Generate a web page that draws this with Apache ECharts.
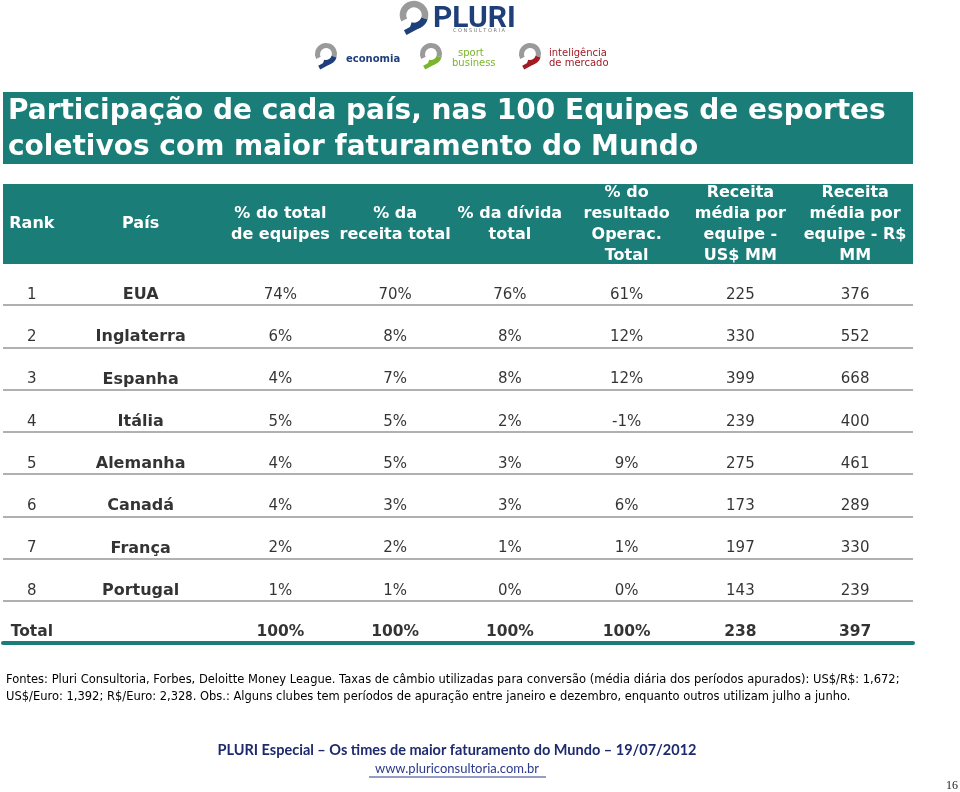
<!DOCTYPE html>
<html>
<head>
<meta charset="utf-8">
<script src="https://cdn.jsdelivr.net/npm/echarts@6/dist/echarts.min.js"></script>
<style>html,body{margin:0;padding:0;background:#fff}#c{width:960px;height:792px}</style>
</head>
<body>
<div id="c"></div>
<script>
// ---- data ----
const headers = ['Rank', 'País', '% do total\nde equipes', '% da\nreceita total', '% da dívida\ntotal',
  '% do\nresultado\nOperac.\nTotal', 'Receita\nmédia por\nequipe -\nUS$ MM', 'Receita\nmédia por\nequipe - R$\nMM'];
const ranks = ['1', '2', '3', '4', '5', '6', '7', '8'];
const countries = ['EUA', 'Inglaterra', 'Espanha', 'Itália', 'Alemanha', 'Canadá', 'França', 'Portugal'];
const pctTeams = [74, 6, 4, 5, 4, 4, 2, 1];
const pctRevenue = [70, 8, 7, 5, 5, 3, 2, 1];
const pctDebt = [76, 8, 8, 2, 3, 3, 1, 0];
const pctOpResult = [61, 12, 12, -1, 9, 6, 1, 0];
const avgRevUSD = [225, 330, 399, 239, 275, 173, 197, 143];
const avgRevBRL = [376, 552, 668, 400, 461, 289, 330, 239];
const totalLabel = 'Total';
const totals = [100, 100, 100, 100, 238, 397];

// ---- styles ----
const TEAL = '#1a7d78';
const FONT = '"DejaVu Sans", Verdana, sans-serif';
const rowKeys = ranks.concat([totalLabel]);
const colShift = [-28, -33, -7, -6, -5, -2, -2, -1];

const pct = v => v + '%';
const columns = [
  ranks, countries, pctTeams.map(pct), pctRevenue.map(pct), pctDebt.map(pct),
  pctOpResult.map(pct), avgRevUSD.map(String), avgRevBRL.map(String)
];
const totalRow = [totalLabel, ''].concat(totals.slice(0, 4).map(pct), totals.slice(4).map(String));

const cells = [];
columns.forEach((col, c) => {
  col.forEach((txt, r) => {
    cells.push({
      value: [c, r], text: txt,
      label: c === 1
        ? { fontWeight: 'bold', fontSize: 16, offset: [colShift[c], 11] }
        : { fontWeight: 'normal', fontSize: 15, offset: [colShift[c], 11] }
    });
  });
});
totalRow.forEach((txt, c) => {
  if (!txt) return;
  cells.push({ value: [c, rowKeys.length - 1], text: txt, label: { fontWeight: 'bold', fontSize: 15.5, offset: [colShift[c], 10] } });
});

const rich = {};
headers.forEach((h, i) => {
  rich['c' + i] = {
    color: '#fff', fontFamily: FONT, fontWeight: 'bold', fontSize: 16, lineHeight: 21,
    padding: [0, -2 * colShift[i], 0, 0]
  };
});

const chart = echarts.init(document.getElementById('c'), null, { renderer: 'canvas' });

function logoIcon(cx, cy, s, tail) {
  return {
    type: 'group', children: [
      { type: 'arc', shape: { cx: cx, cy: cy, r: 10 * s, startAngle: Math.PI * 0.85, endAngle: Math.PI * 2.1 },
        style: { stroke: '#9a9a9a', lineWidth: 6 * s, fill: null } },
      { type: 'arc', shape: { cx: cx, cy: cy, r: 10 * s, startAngle: Math.PI * 0.1, endAngle: Math.PI * 0.6 },
        style: { stroke: tail, lineWidth: 6 * s, fill: null } },
      { type: 'line', shape: { x1: cx + 5 * s, y1: cy + 9 * s, x2: cx - 8 * s, y2: cy + 16 * s },
        style: { stroke: tail, lineWidth: 5 * s } }
    ]
  };
}

const option = {
  animation: false,
  backgroundColor: '#ffffff',
  textStyle: { fontFamily: FONT },
  grid: { left: 3, width: 910, top: 263, height: 380, containLabel: false },
  xAxis: [
    {
      type: 'category', data: headers, position: 'top', z: 20,
      axisLine: { show: false }, axisTick: { show: false }, splitLine: { show: false },
      axisLabel: {
        interval: 0, hideOverlap: false, margin: 39, verticalAlign: 'middle', align: 'center',
        formatter: (v, i) => v.split('\n').map(l => '{c' + i + '|' + l + '}').join('\n'),
        rich: rich
      }
    },
    {
      type: 'category', data: headers, position: 'bottom', z: 20,
      axisLine: { show: true, lineStyle: { color: TEAL, width: 4 } },
      axisTick: { show: false }, axisLabel: { show: false }, splitLine: { show: false }
    }
  ],
  yAxis: {
    type: 'category', data: rowKeys, inverse: true,
    axisLine: { show: false }, axisTick: { show: false }, axisLabel: { show: false },
    splitLine: { show: true, interval: 0, lineStyle: { color: '#969696', width: 1.6 } }
  },
  series: [{
    type: 'scatter', xAxisIndex: 0, yAxisIndex: 0, silent: true,
    symbolSize: 1, itemStyle: { color: 'rgba(0,0,0,0)' },
    label: {
      show: true, position: 'inside', color: '#000', fontFamily: FONT, fontSize: 15,
      formatter: p => p.data.text
    },
    data: cells, z: 30
  }],
  graphic: [
    // logo
    logoIcon(414, 15, 1.1, '#1f3f7a'),
    { type: 'text', x: 433, y: 4, z: 5, style: { text: 'PLURI', fill: '#1f3f7a', font: 'bold 30px Roboto, sans-serif' } },
    { type: 'text', x: 453, y: 28, z: 5, style: { text: 'C O N S U L T O R I A', fill: '#777', font: '5px "DejaVu Sans"' } },
    logoIcon(326, 54, 0.85, '#1f3f7a'),
    { type: 'text', x: 346, y: 54, z: 5, style: { text: 'economia', fill: '#1f3f7a', font: 'bold 10px "DejaVu Sans"' } },
    logoIcon(431, 54, 0.85, '#7ab52d'),
    { type: 'text', x: 458, y: 48, z: 5, style: { text: 'sport', fill: '#7ab52d', font: '10px "DejaVu Sans"' } },
    { type: 'text', x: 452, y: 58, z: 5, style: { text: 'business', fill: '#7ab52d', font: '10px "DejaVu Sans"' } },
    logoIcon(530, 54, 0.85, '#a01c22'),
    { type: 'text', x: 549, y: 48, z: 5, style: { text: 'inteligência', fill: '#a01c22', font: '10px "DejaVu Sans"' } },
    { type: 'text', x: 549, y: 58, z: 5, style: { text: 'de mercado', fill: '#a01c22', font: '10px "DejaVu Sans"' } },
    // title band
    { type: 'rect', z: 5, shape: { x: 3, y: 92, width: 910, height: 72 }, style: { fill: TEAL } },
    { type: 'text', z: 6, x: 8, y: 112, style: { text: 'Participação de cada país, nas 100 Equipes de esportes', fill: '#fff', font: 'bold 28px "DejaVu Sans"', textVerticalAlign: 'middle' } },
    { type: 'text', z: 6, x: 8, y: 148, style: { text: 'coletivos com maior faturamento do Mundo', fill: '#fff', font: 'bold 28px "DejaVu Sans"', textVerticalAlign: 'middle' } },
    // header band
    { type: 'rect', z: 10, shape: { x: 3, y: 184, width: 910, height: 80 }, style: { fill: TEAL } },
    // footnote
    { type: 'text', z: 6, x: 6, y: 680, style: { text: 'Fontes: Pluri Consultoria, Forbes, Deloitte Money League. Taxas de câmbio utilizadas para conversão (média diária dos períodos apurados): US$/R$: 1,672;', fill: '#000', font: '11.5px "DejaVu Sans"', textVerticalAlign: 'middle' } },
    { type: 'text', z: 6, x: 6, y: 697, style: { text: 'US$/Euro: 1,392; R$/Euro: 2,328. Obs.: Alguns clubes tem períodos de apuração entre janeiro e dezembro, enquanto outros utilizam julho a junho.', fill: '#000', font: '11.5px "DejaVu Sans"', textVerticalAlign: 'middle' } },
    // footer
    { type: 'text', z: 6, x: 457, y: 750, style: { text: 'PLURI Especial – Os times de maior faturamento do Mundo – 19/07/2012', fill: '#1d2a6e', font: 'bold 14.5px Lato', textAlign: 'center', textVerticalAlign: 'middle' } },
    { type: 'text', z: 6, x: 457, y: 769, style: { text: 'www.pluriconsultoria.com.br', fill: '#2b3a8c', font: '13px Lato', textAlign: 'center', textVerticalAlign: 'middle' } },
    { type: 'line', z: 6, shape: { x1: 369, y1: 777, x2: 546, y2: 777 }, style: { stroke: '#2b3a8c', lineWidth: 1 } },
    { type: 'text', z: 6, x: 952, y: 786, style: { text: '16', fill: '#222', font: '12px "Liberation Serif"', textAlign: 'center', textVerticalAlign: 'middle' } }
  ]
};
chart.setOption(option);
</script>
</body>
</html>
